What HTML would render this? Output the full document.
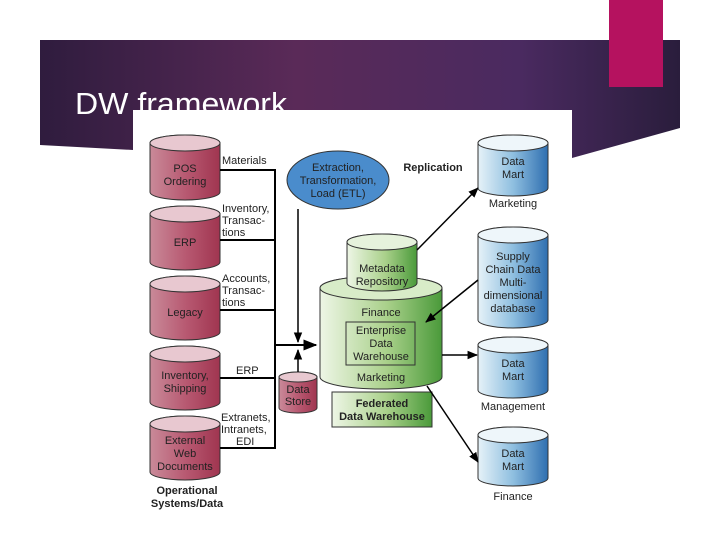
<!DOCTYPE html>
<html><head><meta charset="utf-8"><style>
body{margin:0;width:720px;height:540px;background:#fff;overflow:hidden;font-family:"Liberation Sans",sans-serif}
</style></head><body>
<svg width="720" height="540" viewBox="0 0 720 540" xmlns="http://www.w3.org/2000/svg" font-family="Liberation Sans, sans-serif">
<defs>
<linearGradient id="ban" x1="0" y1="0" x2="1" y2="0"><stop offset="0" stop-color="#2f1c3e"/><stop offset="0.4" stop-color="#5a2a58"/><stop offset="0.75" stop-color="#4a2a60"/><stop offset="1" stop-color="#2a1d3c"/></linearGradient>
<linearGradient id="red" x1="0" x2="1"><stop offset="0" stop-color="#c98a99"/><stop offset="0.5" stop-color="#b85a72"/><stop offset="1" stop-color="#a03550"/></linearGradient>
<linearGradient id="blue" x1="0" x2="1"><stop offset="0" stop-color="#e6f2f8"/><stop offset="0.5" stop-color="#8fbfe0"/><stop offset="1" stop-color="#2f6fb0"/></linearGradient>
<linearGradient id="green" x1="0" x2="1"><stop offset="0" stop-color="#eef6e6"/><stop offset="0.55" stop-color="#a9d08a"/><stop offset="1" stop-color="#4a9a3a"/></linearGradient>
<marker id="ar" viewBox="0 0 10 10" refX="9" refY="5" markerWidth="7" markerHeight="7" orient="auto"><path d="M0,1 L10,5 L0,9 z" fill="#000"/></marker>
</defs>
<polygon points="40,40 680,40 680,128 572,158 133,150 40,145" fill="url(#ban)"/>
<rect x="609" y="0" width="54" height="87" fill="#b5125f"/>
<text x="75" y="114" font-size="31" fill="#fff" textLength="212" lengthAdjust="spacingAndGlyphs">DW framework</text>
<rect x="133" y="110" width="439" height="405" fill="#fff"/>

<g stroke="#333" stroke-width="1">
<path d="M150,143 A35,8 0 0 1 220,143 V192 A35,8 0 0 1 150,192 Z" fill="url(#red)"/><ellipse cx="185" cy="143" rx="35" ry="8" fill="#e8c8d0"/>
<path d="M150,214 A35,8 0 0 1 220,214 V262 A35,8 0 0 1 150,262 Z" fill="url(#red)"/><ellipse cx="185" cy="214" rx="35" ry="8" fill="#e8c8d0"/>
<path d="M150,284 A35,8 0 0 1 220,284 V332 A35,8 0 0 1 150,332 Z" fill="url(#red)"/><ellipse cx="185" cy="284" rx="35" ry="8" fill="#e8c8d0"/>
<path d="M150,354 A35,8 0 0 1 220,354 V402 A35,8 0 0 1 150,402 Z" fill="url(#red)"/><ellipse cx="185" cy="354" rx="35" ry="8" fill="#e8c8d0"/>
<path d="M150,424 A35,8 0 0 1 220,424 V472 A35,8 0 0 1 150,472 Z" fill="url(#red)"/><ellipse cx="185" cy="424" rx="35" ry="8" fill="#e8c8d0"/>
<path d="M279,377 A19,5 0 0 1 317,377 V408 A19,5 0 0 1 279,408 Z" fill="url(#red)"/><ellipse cx="298" cy="377" rx="19" ry="5" fill="#e8c8d0"/>
<ellipse cx="338" cy="180" rx="51" ry="29" fill="#4a8ccc"/>
<path d="M320,288 A61,12 0 0 1 442,288 V377 A61,12 0 0 1 320,377 Z" fill="url(#green)"/><ellipse cx="381" cy="288" rx="61" ry="12" fill="#d8ecc8"/>
<path d="M347,242 A35,8 0 0 1 417,242 V283 A35,8 0 0 1 347,283 Z" fill="url(#green)"/><ellipse cx="382" cy="242" rx="35" ry="8" fill="#e6f2dc"/>
<rect x="346" y="322" width="69" height="43" fill="none"/>
<rect x="332" y="392" width="100" height="35" fill="url(#green)"/>
<path d="M478,143 A35,8 0 0 1 548,143 V188 A35,8 0 0 1 478,188 Z" fill="url(#blue)"/><ellipse cx="513" cy="143" rx="35" ry="8" fill="#eef6fa"/>
<path d="M478,235 A35,8 0 0 1 548,235 V320 A35,8 0 0 1 478,320 Z" fill="url(#blue)"/><ellipse cx="513" cy="235" rx="35" ry="8" fill="#eef6fa"/>
<path d="M478,345 A35,8 0 0 1 548,345 V390 A35,8 0 0 1 478,390 Z" fill="url(#blue)"/><ellipse cx="513" cy="345" rx="35" ry="8" fill="#eef6fa"/>
<path d="M478,435 A35,8 0 0 1 548,435 V478 A35,8 0 0 1 478,478 Z" fill="url(#blue)"/><ellipse cx="513" cy="435" rx="35" ry="8" fill="#eef6fa"/>
</g>

<g stroke="#000" stroke-width="2" fill="none">
<path d="M220,170 H275 V448 H220"/>
<path d="M220,240 H275 M220,310 H275 M220,378 H275"/>
<path d="M275,345 H316" marker-end="url(#ar)"/>
<path d="M298,209 V342" marker-end="url(#ar)" stroke-width="1.5"/>
<path d="M298,372 V350" marker-end="url(#ar)" stroke-width="1.5"/>
<path d="M417,250 L478,188" marker-end="url(#ar)" stroke-width="1.5"/>
<path d="M478,280 L426,322" marker-end="url(#ar)" stroke-width="1.5"/>
<path d="M442,355 L477,355" marker-end="url(#ar)" stroke-width="1.5"/>
<path d="M427,386 L478,462" marker-end="url(#ar)" stroke-width="1.5"/>
</g>

<g font-size="11" text-anchor="middle" fill="#222">
<text x="185" y="172">POS</text><text x="185" y="185">Ordering</text>
<text x="185" y="246">ERP</text>
<text x="185" y="316">Legacy</text>
<text x="185" y="379">Inventory,</text><text x="185" y="392">Shipping</text>
<text x="185" y="444">External</text><text x="185" y="457">Web</text><text x="185" y="470">Documents</text>
<text x="187" y="494" font-weight="bold">Operational</text><text x="187" y="507" font-weight="bold">Systems/Data</text>
<text x="298" y="393">Data</text><text x="298" y="405">Store</text>
<text x="338" y="171">Extraction,</text><text x="338" y="184">Transformation,</text><text x="338" y="197">Load (ETL)</text>
<text x="382" y="272">Metadata</text><text x="382" y="285">Repository</text>
<text x="381" y="316">Finance</text>
<text x="381" y="334">Enterprise</text><text x="381" y="347">Data</text><text x="381" y="360">Warehouse</text>
<text x="381" y="381">Marketing</text>
<text x="382" y="407" font-weight="bold">Federated</text><text x="382" y="420" font-weight="bold">Data Warehouse</text>
<text x="433" y="171" font-weight="bold">Replication</text>
<text x="513" y="165">Data</text><text x="513" y="178">Mart</text>
<text x="513" y="207">Marketing</text>
<text x="513" y="260">Supply</text><text x="513" y="273">Chain Data</text><text x="513" y="286">Multi-</text><text x="513" y="299">dimensional</text><text x="513" y="312">database</text>
<text x="513" y="367">Data</text><text x="513" y="380">Mart</text>
<text x="513" y="410">Management</text>
<text x="513" y="457">Data</text><text x="513" y="470">Mart</text>
<text x="513" y="500">Finance</text>
</g>
<g font-size="11" fill="#222">
<text x="222" y="164">Materials</text>
<text x="222" y="212">Inventory,</text><text x="222" y="224">Transac-</text><text x="222" y="236">tions</text>
<text x="222" y="282">Accounts,</text><text x="222" y="294">Transac-</text><text x="222" y="306">tions</text>
<text x="236" y="374">ERP</text>
<text x="221" y="421">Extranets,</text><text x="221" y="433">Intranets,</text><text x="236" y="445">EDI</text>
</g>
</svg>
</body></html>
